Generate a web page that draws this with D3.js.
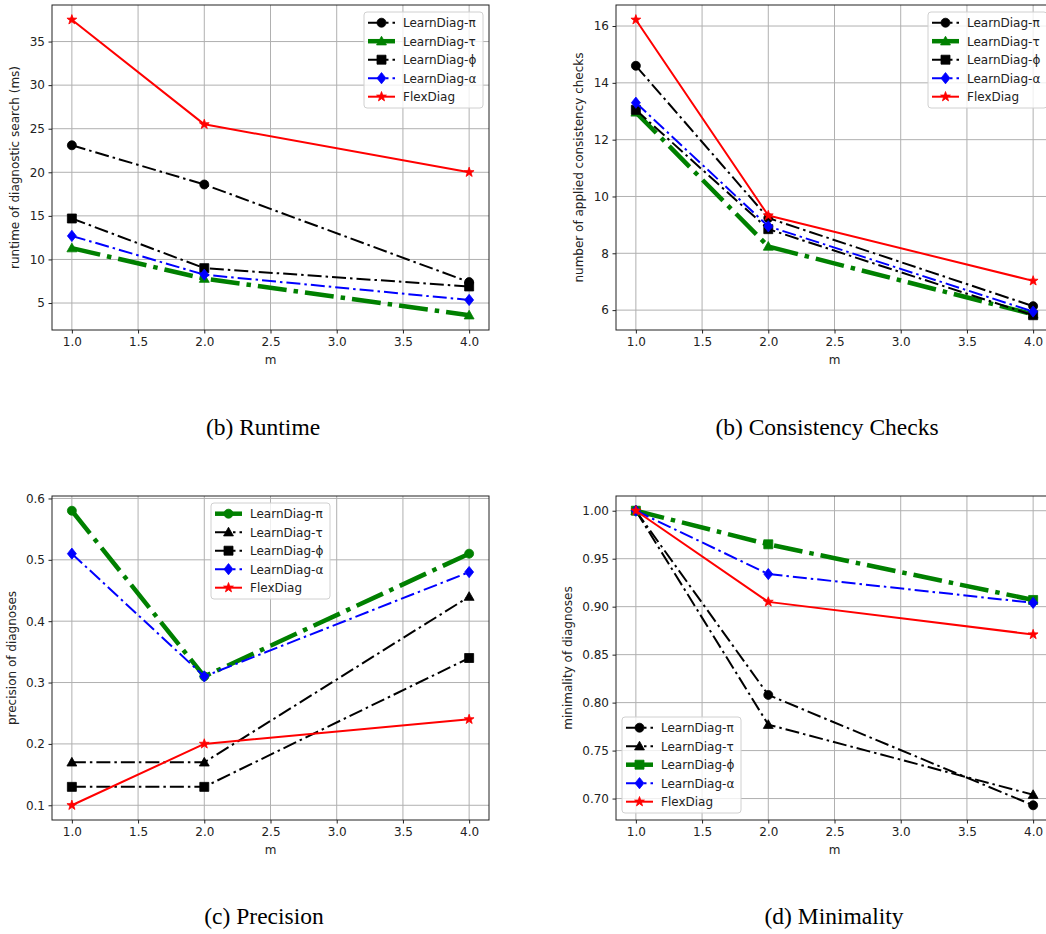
<!DOCTYPE html>
<html><head><meta charset="utf-8">
<script src="https://cdn.jsdelivr.net/npm/d3@7/dist/d3.min.js"></script>
<style>
body{margin:0;background:#fff;}
text{font-family:"DejaVu Sans",sans-serif;}
text.caption{font-family:"Liberation Serif","Times New Roman",serif;}
</style></head>
<body>
<svg id="chart" width="1046" height="934"></svg>
<script>
// ---------------- DATA ----------------
const mValues = [1, 2, 4];
const xTicks = [1.0, 1.5, 2.0, 2.5, 3.0, 3.5, 4.0];
const seriesNames = ["LearnDiag-π", "LearnDiag-τ", "LearnDiag-ϕ", "LearnDiag-α", "FlexDiag"];

const runtimePi    = [23.1, 18.6, 7.4];
const runtimeTau   = [11.3, 7.8, 3.6];
const runtimePhi   = [14.7, 9.0, 6.9];
const runtimeAlpha = [12.7, 8.25, 5.35];
const runtimeFlex  = [37.5, 25.5, 20.0];
const runtimeTicks = [5, 10, 15, 20, 25, 30, 35];

const checksPi    = [14.6, 9.24, 6.14];
const checksTau   = [12.96, 8.24, 5.85];
const checksPhi   = [13.05, 8.85, 5.82];
const checksAlpha = [13.3, 8.95, 5.95];
const checksFlex  = [16.22, 9.33, 7.03];
const checksTicks = [6, 8, 10, 12, 14, 16];

const precisionPi    = [0.58, 0.31, 0.51];
const precisionTau   = [0.17, 0.17, 0.44];
const precisionPhi   = [0.13, 0.13, 0.34];
const precisionAlpha = [0.51, 0.31, 0.48];
const precisionFlex  = [0.10, 0.20, 0.24];
const precisionTicks = [0.1, 0.2, 0.3, 0.4, 0.5, 0.6];

const minimalityPi    = [1.0, 0.808, 0.693];
const minimalityTau   = [1.0, 0.777, 0.704];
const minimalityPhi   = [1.0, 0.965, 0.907];
const minimalityAlpha = [1.0, 0.934, 0.904];
const minimalityFlex  = [1.0, 0.905, 0.871];
const minimalityTicks = [0.70, 0.75, 0.80, 0.85, 0.90, 0.95, 1.00];

// ---------------- STYLES ----------------
const thin = {lw: 2, dash: "14,4,2.5,4"};
const thick = {lw: 4.5, dash: "29,7,4.5,7"};
const solid = {lw: 2, dash: null};

const svg = d3.select("#chart");

function markerPath(type, size) {
  const r = size / 2;
  if (type === "circle") return d3.symbol(d3.symbolCircle, Math.PI * r * r)();
  if (type === "square") return `M${-r},${-r}H${r}V${r}H${-r}Z`;
  if (type === "diamond") { const a = r * 1.25, b = r * 1.0; return `M0,${-a}L${b},0L0,${a}L${-b},0Z`; }
  if (type === "triangle") { const h = r * 1.1; return `M0,${-h}L${h},${h * 0.75}L${-h},${h * 0.75}Z`; }
  if (type === "star") {
    let p = ""; const ro = r * 1.15, ri = ro * 0.4;
    for (let i = 0; i < 10; i++) {
      const rr = i % 2 === 0 ? ro : ri;
      const ang = -Math.PI / 2 + i * Math.PI / 5;
      p += (i === 0 ? "M" : "L") + (rr * Math.cos(ang)).toFixed(2) + "," + (rr * Math.sin(ang)).toFixed(2);
    }
    return p + "Z";
  }
}
const markerSize = {circle: 9, square: 9, diamond: 9, triangle: 9, star: 9};

function drawPanel(cfg) {
  const {left, top, width, height} = cfg;
  const g = svg.append("g");
  const all = cfg.series.flatMap(s => s.values);
  const mn = d3.min(all), mx = d3.max(all), pad = (mx - mn) * 0.05;
  const x = d3.scaleLinear().domain([0.85, 4.15]).range([left, left + width]);
  const y = d3.scaleLinear().domain([mn - pad, mx + pad]).range([top + height, top]);

  // grid
  g.append("g").selectAll("line").data(xTicks).join("line")
    .attr("x1", d => x(d)).attr("x2", d => x(d)).attr("y1", top).attr("y2", top + height)
    .attr("stroke", "#b0b0b0").attr("stroke-width", 1);
  g.append("g").selectAll("line").data(cfg.yTicks).join("line")
    .attr("x1", left).attr("x2", left + width).attr("y1", d => y(d)).attr("y2", d => y(d))
    .attr("stroke", "#b0b0b0").attr("stroke-width", 1);

  // axes
  const xAxis = d3.axisBottom(x).tickValues(xTicks).tickFormat(d3.format(".1f")).tickSize(3.5).tickPadding(3.5);
  const yAxis = d3.axisLeft(y).tickValues(cfg.yTicks).tickFormat(d3.format(cfg.yFormat)).tickSize(3.5).tickPadding(3.5);
  const gx = g.append("g").attr("transform", `translate(0,${top + height})`).call(xAxis);
  const gy = g.append("g").attr("transform", `translate(${left},0)`).call(yAxis);
  [gx, gy].forEach(a => {
    a.select(".domain").remove();
    a.selectAll("line").attr("stroke", "#222");
    a.selectAll("text").attr("font-size", 12).attr("fill", "#222");
  });

  // lines + markers
  const line = d3.line().x((d, i) => x(mValues[i])).y(d => y(d));
  cfg.series.forEach(s => {
    const st = s.style;
    g.append("path").attr("d", line(s.values)).attr("fill", "none")
      .attr("stroke", s.color).attr("stroke-width", st.lw)
      .attr("stroke-dasharray", st.dash).attr("stroke-linejoin", "round");
    g.append("g").selectAll("path").data(s.values).join("path")
      .attr("transform", (d, i) => `translate(${x(mValues[i])},${y(d)})`)
      .attr("d", markerPath(s.marker, markerSize[s.marker]))
      .attr("fill", s.color).attr("stroke", s.color).attr("stroke-width", 0.8);
  });

  // frame
  g.append("rect").attr("x", left).attr("y", top).attr("width", width).attr("height", height)
    .attr("fill", "none").attr("stroke", "#222").attr("stroke-width", 1);

  // axis labels
  g.append("text").attr("x", left + width / 2).attr("y", top + height + 34)
    .attr("text-anchor", "middle").attr("font-size", 12).attr("fill", "#222").text("m");
  g.append("text").attr("transform", `translate(${cfg.yLabelX},${top + height / 2}) rotate(-90)`)
    .attr("dy", "0.35em").attr("text-anchor", "middle").attr("font-size", 12).attr("fill", "#222").text(cfg.yLabel);

  // legend
  const lw = 119, lh = 96, rowH = 18.5;
  let lx, ly;
  if (cfg.legend === "upper right") { lx = left + width - 6 - lw; ly = top + 7; }
  else if (cfg.legend === "upper center") { lx = left + width / 2 - lw / 2; ly = top + 7; }
  else { lx = left + 6; ly = top + height - 7 - lh; }
  const lg = g.append("g").attr("transform", `translate(${lx},${ly})`);
  lg.append("rect").attr("width", lw).attr("height", lh).attr("rx", 3)
    .attr("fill", "#fff").attr("fill-opacity", 0.8).attr("stroke", "#d0d0d0").attr("stroke-width", 1);
  cfg.series.forEach((s, i) => {
    const cy = 10.7 + i * rowH;
    lg.append("line").attr("x1", 4).attr("x2", 31).attr("y1", cy).attr("y2", cy)
      .attr("stroke", s.color).attr("stroke-width", s.style.lw).attr("stroke-dasharray", s.style.dash);
    lg.append("path").attr("transform", `translate(17.5,${cy})`)
      .attr("d", markerPath(s.marker, markerSize[s.marker]))
      .attr("fill", s.color).attr("stroke", s.color).attr("stroke-width", 0.8);
    lg.append("text").attr("x", 39).attr("y", cy).attr("dy", "0.36em")
      .attr("font-size", 12).attr("fill", "#222").text(s.name);
  });

  // caption
  svg.append("text").attr("class", "caption").attr("x", cfg.capX).attr("y", cfg.capY).attr("text-anchor", "middle")
    .attr("font-size", 23.5).attr("fill", "#000").text(cfg.caption);
}

function mk(vals, colors, markers, styles) {
  return seriesNames.map((n, i) => ({name: n, values: vals[i], color: colors[i], marker: markers[i], style: styles[i]}));
}
const markersSet = ["circle", "triangle", "square", "diamond", "star"];

drawPanel({
  left: 52, top: 5, width: 437, height: 325,
  yTicks: runtimeTicks, yFormat: "d", yLabel: "runtime of diagnostic search (ms)", yLabelX: 15,
  legend: "upper right", caption: "(b) Runtime", capX: 263, capY: 435,
  series: mk([runtimePi, runtimeTau, runtimePhi, runtimeAlpha, runtimeFlex],
    ["black", "green", "black", "blue", "red"], markersSet, [thin, thick, thin, thin, solid])
});
drawPanel({
  left: 616, top: 5, width: 437, height: 325,
  yTicks: checksTicks, yFormat: "d", yLabel: "number of applied consistency checks", yLabelX: 579,
  legend: "upper right", caption: "(b) Consistency Checks", capX: 827, capY: 435,
  series: mk([checksPi, checksTau, checksPhi, checksAlpha, checksFlex],
    ["black", "green", "black", "blue", "red"], markersSet, [thin, thick, thin, thin, solid])
});
drawPanel({
  left: 52, top: 496, width: 437, height: 324,
  yTicks: precisionTicks, yFormat: ".1f", yLabel: "precision of diagnoses", yLabelX: 12,
  legend: "upper center", caption: "(c) Precision", capX: 264, capY: 924,
  series: mk([precisionPi, precisionTau, precisionPhi, precisionAlpha, precisionFlex],
    ["green", "black", "black", "blue", "red"], markersSet, [thick, thin, thin, thin, solid])
});
drawPanel({
  left: 616, top: 496, width: 437, height: 324,
  yTicks: minimalityTicks, yFormat: ".2f", yLabel: "minimality of diagnoses", yLabelX: 568,
  legend: "lower left", caption: "(d) Minimality", capX: 834, capY: 924,
  series: mk([minimalityPi, minimalityTau, minimalityPhi, minimalityAlpha, minimalityFlex],
    ["black", "black", "green", "blue", "red"], markersSet, [thin, thin, thick, thin, solid])
});
</script>
</body></html>
